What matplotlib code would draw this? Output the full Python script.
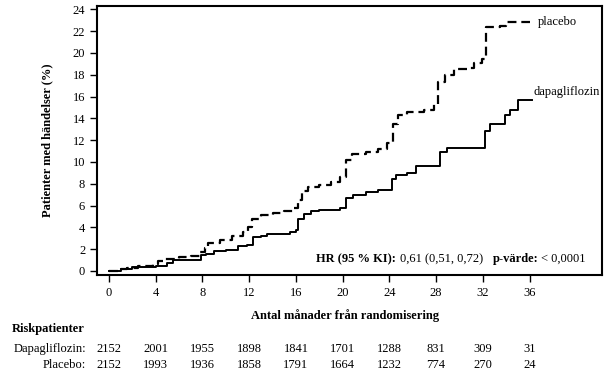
import numpy as np
import matplotlib.pyplot as plt

plt.rcParams['font.family'] = ['Liberation Serif', 'DejaVu Serif']

# Kaplan-Meier style cumulative event curves
dapa_months = [0, 1, 2, 4, 5, 5.5, 7.9, 8.3, 9, 10, 11, 11.8, 12.3, 13, 13.5, 15.5,
               16, 16.2, 16.7, 17.3, 18, 19.8, 20.3, 20.9, 22, 23, 24.2, 24.6, 25.5, 26.3,
               28.3, 28.9, 32.2, 32.6, 33.9, 34.3, 35.0, 36.2]
dapa_values = [0, 0.2, 0.4, 0.5, 0.7, 1.0, 1.5, 1.6, 1.8, 1.9, 2.3, 2.4, 3.1, 3.2, 3.4, 3.6,
               3.8, 4.8, 5.2, 5.5, 5.6, 5.8, 6.7, 7.0, 7.2, 7.4, 8.4, 8.8, 9.0, 9.6,
               10.9, 11.3, 12.8, 13.5, 14.3, 14.8, 15.7, 15.7]

plac_months = [0, 1, 1.5, 2.5, 3.8, 4.2, 4.6, 6, 7, 7.8, 8.2, 8.5, 9.5, 10.5, 11.5, 11.9,
               12.2, 13, 14, 15, 15.8, 16.2, 16.5, 17, 18, 19, 19.8, 20.3, 20.8, 22, 23,
               23.8, 24.3, 24.7, 25.5, 27, 27.8, 28.2, 28.8, 29.5, 30.8, 31.2, 31.9, 32.3,
               33.5, 34, 36]
plac_values = [0, 0.2, 0.3, 0.5, 0.6, 0.9, 1.1, 1.3, 1.4, 1.7, 2.1, 2.6, 2.8, 3.2, 3.6, 4.0,
               4.8, 5.1, 5.3, 5.5, 5.8, 6.5, 7.3, 7.7, 7.9, 8.2, 8.6, 10.2, 10.7, 10.9, 11.2,
               11.7, 13.5, 14.3, 14.6, 14.8, 15.3, 17.3, 18.0, 18.5, 18.6, 19.1, 19.4, 22.4,
               22.5, 22.8, 22.8]

tick_months = [0, 4, 8, 12, 16, 20, 24, 28, 32, 36]
risk_dapa = [2152, 2001, 1955, 1898, 1841, 1701, 1288, 831, 309, 31]
risk_plac = [2152, 1993, 1936, 1858, 1791, 1664, 1232, 774, 270, 24]

W, H = 614, 378
fig = plt.figure(figsize=(W / 100, H / 100), dpi=100)
ax = fig.add_axes([97 / W, 1 - 275 / H, 505 / W, 269 / H])

ax.plot(plac_months, plac_values, drawstyle='steps-post', color='black', lw=1.6,
        dashes=(4, 2.2))
ax.plot(dapa_months, dapa_values, drawstyle='steps-post', color='black', lw=1.4)

ax.set_xlim(-1.03, 42.2)
ax.set_ylim(-0.37, 24.3)
ax.set_xticks(tick_months)
ax.set_yticks(range(0, 25, 2))
ax.tick_params(labelsize=9, length=5, width=1)
ax.tick_params(axis='x', pad=4)
for s in ax.spines.values():
    s.set_linewidth(1.5)

ax.set_ylabel('Patienter med händelser (%)', fontsize=9, fontweight='bold', labelpad=14)

# curve labels
ax.text(36.7, 22.8, 'placebo', fontsize=9, va='center', ha='left')
ax.text(36.3, 16.4, 'dapagliflozin', fontsize=9, va='center', ha='left')

# hazard ratio annotation
def ftext(px, py, s, **kw):
    fig.text(px / W, 1 - py / H, s, fontsize=9, va='center', ha='left', **kw)

ftext(316, 259, 'HR (95 % KI):', fontweight='bold')
ftext(400, 259, '0,61 (0,51, 0,72)')
ftext(493, 259, 'p-värde:', fontweight='bold')
ftext(541, 259, '< 0,0001')

fig.text(345 / W, 1 - 316 / H, 'Antal månader från randomisering', fontsize=9,
         fontweight='bold', ha='center', va='center')

# number at risk table
ftext(12, 329, 'Riskpatienter', fontweight='bold')
fig.text(86 / W, 1 - 349 / H, 'Dapagliflozin:', fontsize=9, ha='right', va='center')
fig.text(86 / W, 1 - 365 / H, 'Placebo:', fontsize=9, ha='right', va='center')
for m, d, p in zip(tick_months, risk_dapa, risk_plac):
    x = ax.transData.transform((m, 0))[0] / W
    fig.text(x, 1 - 349 / H, str(d), fontsize=9, ha='center', va='center')
    fig.text(x, 1 - 365 / H, str(p), fontsize=9, ha='center', va='center')

fig.savefig('out.png', dpi=100)
